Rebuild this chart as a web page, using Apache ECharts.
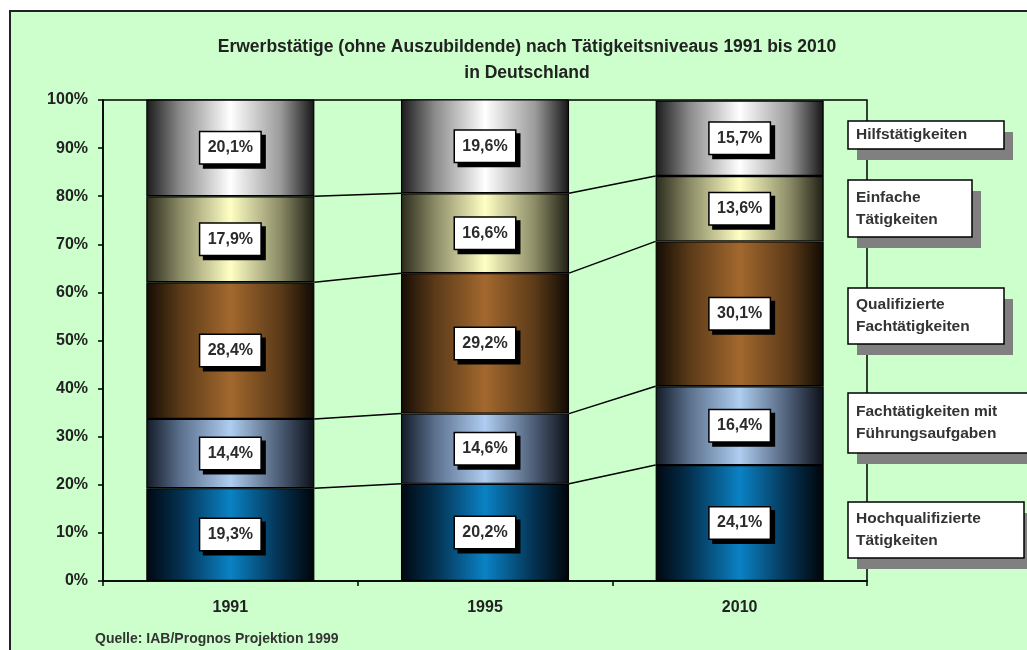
<!DOCTYPE html>
<html>
<head>
<meta charset="utf-8">
<script src="https://cdn.jsdelivr.net/npm/echarts@6/dist/echarts.min.js"></script>
<style>html,body{margin:0;padding:0;background:#fff;}#c{width:1027px;height:650px;}</style>
</head>
<body>
<div id="c"></div>
<script>
const years = ['1991', '1995', '2010'];
const seriesNames = ['Hochqualifizierte\nTätigkeiten', 'Fachtätigkeiten mit\nFührungsaufgaben', 'Qualifizierte\nFachtätigkeiten', 'Einfache\nTätigkeiten', 'Hilfstätigkeiten'];
const hochqualifiziert = [19.3, 20.2, 24.1];
const fuehrung = [14.4, 14.6, 16.4];
const qualifiziert = [28.4, 29.2, 30.1];
const einfach = [17.9, 16.6, 13.6];
const hilfs = [20.1, 19.6, 15.7];
const yTicks = [0, 10, 20, 30, 40, 50, 60, 70, 80, 90, 100];
const titleText = 'Erwerbstätige (ohne Auszubildende) nach Tätigkeitsniveaus 1991 bis 2010\nin Deutschland';
const sourceText = 'Quelle: IAB/Prognos Projektion 1999';

const seriesValues = [hochqualifiziert, fuehrung, qualifiziert, einfach, hilfs];
const gradients = [
  ['#000810', '#04304f', '#0a82c4', '#04304f', '#000508'],
  ['#121a26', '#5a6f8c', '#aecdf0', '#4a5a72', '#0c1018'],
  ['#140c04', '#5a3a18', '#a3682e', '#5a3a18', '#100a03'],
  ['#2a2a1c', '#8a8a66', '#ffffc4', '#8a8a66', '#1e1e14'],
  ['#1a1a1a', '#8a8a8a', '#ffffff', '#9a9a9a', '#151515']
];
function grad(c) {
  return new echarts.graphic.LinearGradient(0, 0, 1, 0, [
    {offset: 0, color: c[0]}, {offset: 0.2, color: c[1]}, {offset: 0.5, color: c[2]},
    {offset: 0.8, color: c[3]}, {offset: 1, color: c[4]}
  ]);
}
const fmt = v => v.toFixed(1).replace('.', ',') + '%';

const cums = years.map((y, i) => {
  let s = 0; const out = [];
  for (let k = 0; k < seriesValues.length - 1; k++) { s += seriesValues[k][i]; out.push(s); }
  return out;
});

const BAR_FRAC = 0.66;
const FONT = '"Liberation Sans", Arial, sans-serif';
const series = seriesValues.map((vals, k) => ({
  name: seriesNames[k],
  type: 'bar',
  stack: 'total',
  barWidth: (BAR_FRAC * 100) + '%',
  data: vals,
  itemStyle: {color: grad(gradients[k]), borderColor: '#000', borderWidth: 1.2},
  label: {
    show: true, position: 'inside', formatter: p => fmt(p.value),
    color: '#2b2b2b', fontFamily: FONT, fontWeight: 'bold', fontSize: 16, lineHeight: 16,
    backgroundColor: '#fff', borderColor: '#000', borderWidth: 1.5,
    width: 44, align: 'center', padding: [8, 8, 7, 8],
    shadowColor: '#000', shadowBlur: 0, shadowOffsetX: 4, shadowOffsetY: 4
  }
}));

series.push({
  type: 'custom',
  silent: true,
  data: [[0], [1]],
  renderItem: function (params, api) {
    const i = api.value(0);
    const band = api.size([1, 0])[0];
    const half = band * BAR_FRAC / 2;
    const children = [];
    for (let k = 0; k < cums[i].length; k++) {
      const a = api.coord([i, cums[i][k]]);
      const b = api.coord([i + 1, cums[i + 1][k]]);
      children.push({
        type: 'line',
        shape: {x1: a[0] + half, y1: a[1], x2: b[0] - half, y2: b[1]},
        style: {stroke: '#000', lineWidth: 1.5}
      });
    }
    return {type: 'group', children: children};
  },
  z: 1
});

const legendBoxes = [
  {name: 4, y: 121, h: 28, w: 156},
  {name: 3, y: 180, h: 57, w: 124},
  {name: 2, y: 288, h: 56, w: 156},
  {name: 1, y: 393, h: 60, w: 185},
  {name: 0, y: 502, h: 56, w: 176}
];
const graphics = [
  {type: 'rect', z: -10, shape: {x: 10, y: 11, width: 1040, height: 660}, style: {fill: '#ccffcc', stroke: '#222', lineWidth: 2}},
  {type: 'text', left: 95, top: 632, style: {text: sourceText, font: 'bold 14px ' + FONT, fill: '#333'}}
];
legendBoxes.forEach(b => {
  graphics.push({type: 'rect', z: 4, shape: {x: 848 + 9, y: b.y + 11, width: b.w, height: b.h},
    style: {fill: '#808080'}});
  graphics.push({type: 'rect', z: 5, shape: {x: 848, y: b.y, width: b.w, height: b.h},
    style: {fill: '#fff', stroke: '#000', lineWidth: 1.5}});
  graphics.push({type: 'text', z: 6, x: 856, y: b.y + b.h / 2,
    style: {text: seriesNames[b.name], font: 'bold 15.5px ' + FONT, fill: '#333', lineHeight: 22, verticalAlign: 'middle', textAlign: 'left'}});
});

const chart = echarts.init(document.getElementById('c'), null, {renderer: 'canvas'});
chart.setOption({
  animation: false,
  backgroundColor: '#fff',
  title: {
    text: titleText, left: 522, top: 29, textAlign: 'center',
    textStyle: {fontFamily: FONT, fontWeight: 'bold', fontSize: 17.5, color: '#222', lineHeight: 26}
  },
  grid: {left: 103, right: 160, top: 100, bottom: 69, show: true, borderColor: '#000', borderWidth: 1.5, backgroundColor: 'transparent'},
  xAxis: {
    type: 'category', data: years,
    axisLine: {lineStyle: {color: '#000', width: 1.5}},
    axisTick: {show: true, length: 5, lineStyle: {color: '#000', width: 1.5}},
    axisLabel: {margin: 19, color: '#222', fontFamily: FONT, fontWeight: 'bold', fontSize: 16}
  },
  yAxis: {
    type: 'value', min: yTicks[0], max: yTicks[yTicks.length - 1], interval: 10,
    splitLine: {show: false},
    axisLine: {show: true, lineStyle: {color: '#000', width: 1.5}},
    axisTick: {show: true, length: 5, lineStyle: {color: '#000', width: 1.5}},
    axisLabel: {margin: 15, color: '#222', fontFamily: FONT, fontWeight: 'bold', fontSize: 16, formatter: v => v + '%'}
  },
  series: series,
  graphic: graphics
});
</script>
</body>
</html>
